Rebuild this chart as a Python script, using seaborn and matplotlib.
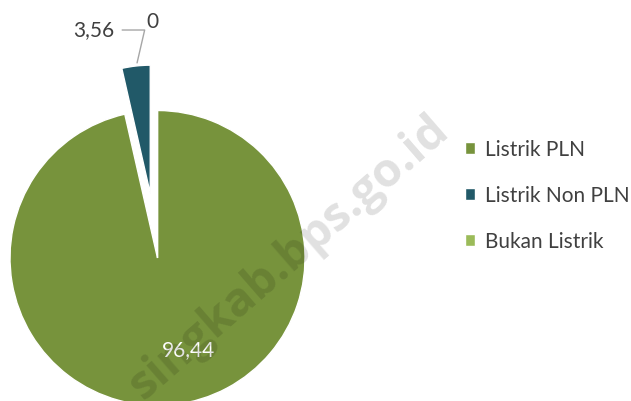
import numpy as np
import matplotlib
matplotlib.use("Agg")
import matplotlib.pyplot as plt
import seaborn as sns

categories = ["Listrik PLN", "Listrik Non PLN", "Bukan Listrik"]
values = [96.44, 3.56, 0.0]
value_labels = ["96,44", "3,56", "0"]
colors = ["#77933C", "#215968", "#9BBB59"]

sns.set_theme(style="white")
plt.rcParams["font.family"] = ["Lato", "DejaVu Sans"]

FS = 15
text_color = "#404040"

fig = plt.figure(figsize=(6.31, 4.01), dpi=100)
# pie axes: centre ~ (157, 258) px, radius ~147 px
ax = fig.add_axes([10 / 631, (143 - 147.5) / 401, 295 / 631, 295 / 401])

wedges, _ = ax.pie(
    values,
    colors=colors,
    startangle=90,
    counterclock=False,
    explode=[0, 0.44, 0],
    wedgeprops=dict(edgecolor="white", linewidth=1),
)
wedges[1].set_radius(0.87)
ax.set_xlim(-1, 1)
ax.set_ylim(-1, 1)
ax.set_aspect("auto")
ax.axis("off")

# value label for the small exploded slice with leader line
w = wedges[1]
ang = np.deg2rad(w.theta1 + 0.45 * (w.theta2 - w.theta1))
cx, cy = w.center
tip = (cx + (w.r + 0.02) * np.cos(ang), cy + (w.r + 0.02) * np.sin(ang))
ax.annotate(
    value_labels[1], xy=tip, xytext=(-0.29, 1.505), ha="right", va="baseline",
    fontsize=FS, color=text_color, annotation_clip=False,
    arrowprops=dict(arrowstyle="-", color="#A6A6A6", lw=1,
                    shrinkA=3, shrinkB=0,
                    connectionstyle="angle,angleA=0,angleB=77,rad=0"),
)
ax.text(-0.034, 1.6, value_labels[2], ha="center", va="center",
        fontsize=FS, color=text_color)
ax.text(0.21, -0.625, value_labels[0], ha="center", va="center",
        fontsize=FS, color="white")

fig.legend(
    wedges, categories, loc="upper left", bbox_to_anchor=(446 / 631, 1 - 121 / 401),
    frameon=False, fontsize=FS, handlelength=0.5, handleheight=0.5,
    handletextpad=0.45, labelspacing=1.25, labelcolor=text_color,
)

# watermark
fig.text(289 / 631, 1 - 258 / 401, "singkab.bps.go.id", rotation=41,
         ha="center", va="center", fontsize=34, fontweight="bold",
         family="Open Sans", color="black", alpha=0.12)

fig.savefig("out.png", dpi=100)
